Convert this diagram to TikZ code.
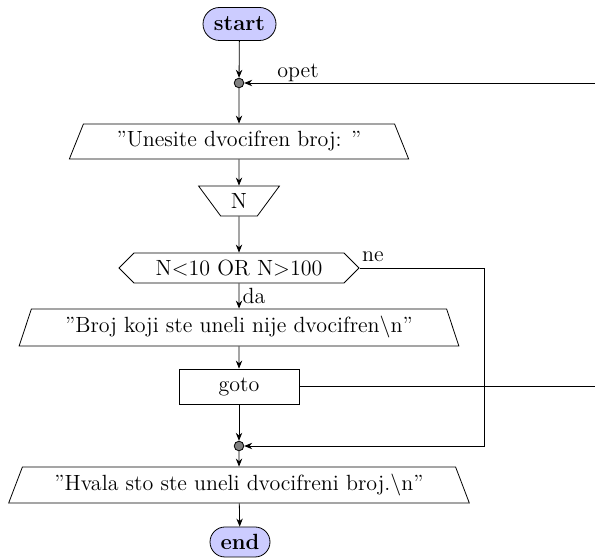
\documentclass[tikz,border=0pt]{standalone}
\usetikzlibrary{shapes.geometric,shapes.misc,shapes.symbols,arrows.meta}
\begin{document}
\begin{tikzpicture}[x=0.5pt,y=-0.5pt,
  >={Stealth[length=4pt,width=3.2pt]},
  every node/.style={font=\fontsize{11}{13}\selectfont},
  terminal/.style={rounded rectangle, draw, fill=blue!20, font=\fontsize{11}{13}\selectfont\bfseries, inner sep=0pt},
  iobox/.style={trapezium, draw, trapezium stretches=true, inner sep=0pt},
  decision/.style={signal, signal to=west and east, draw, inner sep=0pt},
  process/.style={rectangle, draw, inner sep=0pt},
  joint/.style={circle, draw, fill=gray, inner sep=0pt, minimum size=4.8pt},
  lbl/.style={inner sep=0pt},
  flow/.style={->}]
\useasboundingbox (0,0) rectangle (595,560);

% main column
\node[terminal, minimum width=36.5pt, minimum height=16.5pt] (start) at (239.5,24) {start};
\node[joint] (j1) at (239,83) {};
\node[iobox, trapezium left angle=61, trapezium right angle=61,
      minimum width=170pt, minimum height=17.5pt] (ask) at (239,141.5) {"Unesite dvocifren broj: "};
\node[iobox, trapezium left angle=123, trapezium right angle=123,
      minimum width=40.5pt, minimum height=15pt] (readn) at (239,201) {N};
\node[decision, minimum width=120pt, minimum height=15pt] (test) at (239,268) {N<10 OR N>100};
\node[iobox, trapezium left angle=65, trapezium right angle=65,
      minimum width=220.5pt, minimum height=18.5pt] (bad) at (239,327.5) {"Broj koji ste uneli nije dvocifren\textbackslash n"};
\node[process, minimum width=60pt, minimum height=17.5pt] (jump) at (239,386.5) {goto};
\node[joint] (j2) at (239,446) {};
\node[iobox, trapezium left angle=62, trapezium right angle=62,
      minimum width=231pt, minimum height=18pt] (thanks) at (239,485) {"Hvala sto ste uneli dvocifreni broj.\textbackslash n"};
\node[terminal, minimum width=30pt, minimum height=15pt] (end) at (240,542) {end};

% loose ends and bends
\coordinate (back) at (595,83);
\coordinate (out) at (595,386.5);
\coordinate (bend) at (484,268);

% labels
\node[lbl] (lopet) at (298,73) {opet};
\node[lbl] (lne) at (373,257) {ne};
\node[lbl] (lda) at (254,296) {da};

% connectors
\draw[flow] (start) -- (j1);
\draw[flow] (j1) -- (ask);
\draw[flow] (ask) -- (readn);
\draw[flow] (readn) -- (test);
\draw[flow] (test) -- (bad);
\draw[flow] (bad) -- (jump);
\draw[flow] (jump) -- (j2);
\draw[flow] (j2) -- (thanks);
\draw[flow] (thanks) -- (end);
\draw[flow] (back) -- (j1);
\draw (jump) -- (out);
\draw[flow] (test.east) -- (bend) |- (j2);
\end{tikzpicture}
\end{document}
